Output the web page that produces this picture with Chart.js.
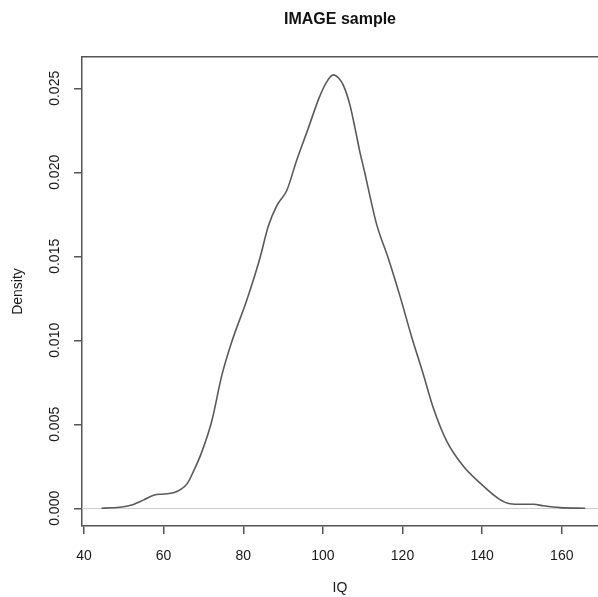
<!DOCTYPE html>
<html>
<head>
<meta charset="utf-8">
<script src="https://cdn.jsdelivr.net/npm/chart.js@4.4.1/dist/chart.umd.min.js"></script>
<style>
  html, body { margin: 0; padding: 0; background: #ffffff; }
  #wrap { width: 598px; height: 597px; }
</style>
</head>
<body>
<div id="wrap"><canvas id="c" width="598" height="597"></canvas></div>
<script>
// Density estimate of IQ
const iq = [44.4, 47, 49, 52, 55, 57.5, 60, 62.5, 64.5, 66, 67.5, 69.5, 72.1, 74.6, 77.1,
  80.9, 84.2, 86.3, 88.4, 89.2, 90.9, 93.4, 96.3, 99, 101, 102.6, 104, 105.1, 106.8, 108.1,
  109.3, 110.6, 111.8, 113.5, 116.4, 119.4, 122.3, 125.2, 127.7, 131.1, 135.3, 139.5,
  144.3, 147, 150, 152.9, 155.4, 159.6, 165.9];
const density = [0, 0.00003, 0.00006, 0.0002, 0.0005, 0.00078, 0.00085, 0.00092, 0.00115,
  0.0015, 0.0022, 0.0033, 0.0052, 0.0079, 0.0099, 0.0124, 0.0149, 0.0168, 0.0180, 0.0183,
  0.0189, 0.0207, 0.0226, 0.0244, 0.0254, 0.0258, 0.0256, 0.0252, 0.0240, 0.0226, 0.0212,
  0.0199, 0.0186, 0.0169, 0.0149, 0.0126, 0.0102, 0.0080, 0.0060, 0.0040, 0.0025, 0.0015,
  0.00055, 0.00027, 0.00024, 0.00024, 0.00015, 0.00004, 0];
const xTicks = [40, 60, 80, 100, 120, 140, 160];
const yTicks = [0.000, 0.005, 0.010, 0.015, 0.020, 0.025];
const titleText = 'IMAGE sample';
const xLabel = 'IQ';
const yLabel = 'Density';

const xMin = 39.5, xMax = 169.1;
const yMin = -0.001054, yMax = 0.026863;

const ink = '#555555';
const txt = '#1a1a1a';
const fam = '"Liberation Sans", Arial, Helvetica, sans-serif';

const zeroLine = {
  id: 'zeroLine',
  beforeDatasetsDraw(chart) {
    const {ctx, chartArea, scales} = chart;
    const y = scales.y.getPixelForValue(0);
    ctx.save();
    ctx.strokeStyle = '#cfcfcf';
    ctx.lineWidth = 1;
    ctx.beginPath();
    ctx.moveTo(chartArea.left, Math.round(y) + 0.5);
    ctx.lineTo(chartArea.right, Math.round(y) + 0.5);
    ctx.stroke();
    ctx.restore();
  }
};

new Chart(document.getElementById('c'), {
  type: 'line',
  data: {
    datasets: [{
      data: iq.map((v, i) => ({x: v, y: density[i]})),
      borderColor: '#5a5a5a',
      borderWidth: 1.6,
      pointRadius: 0,
      fill: false,
      cubicInterpolationMode: 'monotone',
      xAxisID: 'x',
      yAxisID: 'y'
    }]
  },
  options: {
    responsive: false,
    animation: false,
    devicePixelRatio: 1,
    layout: { padding: 0 },
    plugins: { legend: { display: false }, tooltip: { enabled: false }, title: { display: false } },
    scales: {
      x: {
        type: 'linear', position: 'bottom', min: xMin, max: xMax,
        afterFit: s => { s.height = 71; },
        afterBuildTicks: s => { s.ticks = xTicks.map(v => ({value: v})); },
        grid: { display: true, drawOnChartArea: false, drawTicks: true, tickLength: 8, color: ink, lineWidth: 1.5 },
        border: { display: true, color: ink, width: 1.5 },
        ticks: { color: txt, font: { family: fam, size: 14 }, padding: 14, maxRotation: 0, minRotation: 0,
                 callback: v => String(v) },
        title: { display: true, text: xLabel, color: txt, font: { family: fam, size: 14 }, padding: { top: 0, bottom: 0 } }
      },
      x2: {
        type: 'linear', position: 'top', min: xMin, max: xMax,
        afterFit: s => { s.height = 57; },
        grid: { display: false },
        border: { display: true, color: ink, width: 1.5 },
        ticks: { display: false },
        title: { display: true, text: titleText, color: '#111111', font: { family: fam, size: 16, weight: 'bold' }, padding: { top: 10, bottom: 0 } }
      },
      y: {
        type: 'linear', position: 'left', min: yMin, max: yMax,
        afterFit: s => { s.width = 82; },
        afterBuildTicks: s => { s.ticks = yTicks.map(v => ({value: v})); },
        grid: { display: true, drawOnChartArea: false, drawTicks: true, tickLength: 8, color: ink, lineWidth: 1.5 },
        border: { display: true, color: ink, width: 1.5 },
        ticks: { color: txt, font: { family: fam, size: 14 }, padding: 1, minRotation: 90, maxRotation: 90,
                 crossAlign: 'center', callback: v => Number(v).toFixed(3) },
        title: { display: true, text: yLabel, color: txt, font: { family: fam, size: 14 }, padding: { top: 10, bottom: 0 } }
      }
    }
  },
  plugins: [zeroLine]
});
</script>
</body>
</html>
